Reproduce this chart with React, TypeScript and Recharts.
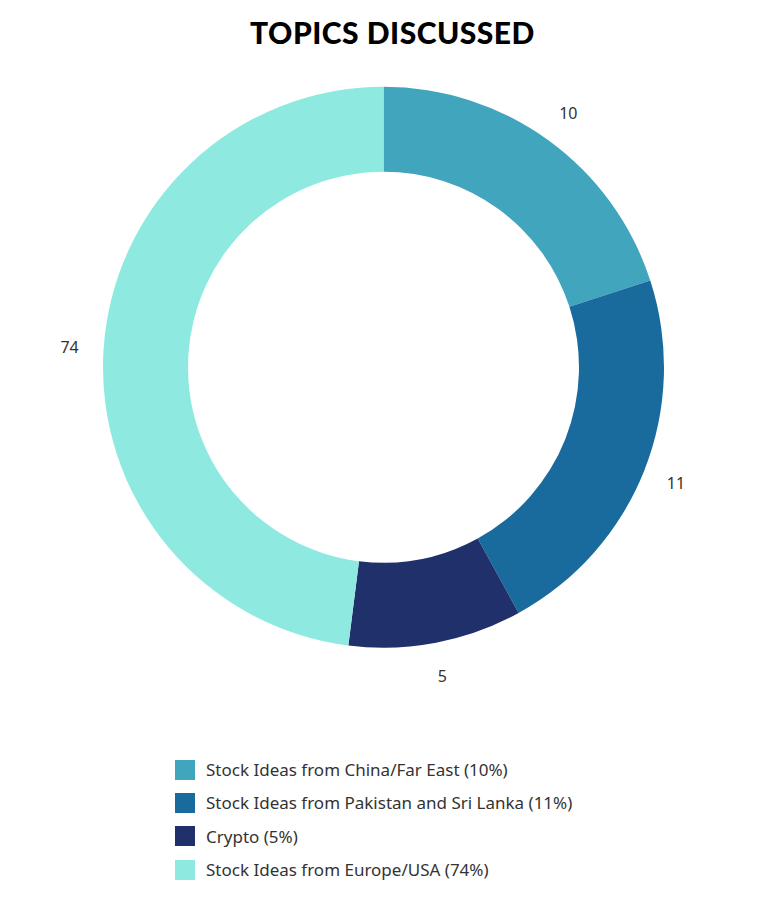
import { PieChart, Pie, Cell, Legend } from 'recharts';

const topics = [
  'Stock Ideas from China/Far East (10%)',
  'Stock Ideas from Pakistan and Sri Lanka (11%)',
  'Crypto (5%)',
  'Stock Ideas from Europe/USA (74%)',
];
// slice sizes as drawn in the picture
const sliceValues = [10, 11, 5, 24];
// numbers printed next to each slice
const sliceLabels = ['10', '11', '5', '74'];
const colors = ['#41A5BD', '#186B9C', '#20306A', '#8EEAE0'];

const data = topics.map((name, i) => ({ name, value: sliceValues[i], label: sliceLabels[i] }));

const RAD = Math.PI / 180;
const FONT = '"Noto Sans", sans-serif';

const renderLabel = (props: any) => {
  const { cx, cy, midAngle, outerRadius, index } = props;
  const r = outerRadius + 34;
  const x = cx + r * Math.cos(-midAngle * RAD);
  const y = cy + r * Math.sin(-midAngle * RAD);
  return (
    <text
      x={x}
      y={y}
      fill="#333"
      fontSize={16}
      fontFamily={FONT}
      textAnchor="middle"
      dominantBaseline="central"
    >
      {sliceLabels[index]}
    </text>
  );
};

// legend keeps the data order, not the alphabetical payload order
const renderLegend = () => (
  <ul style={{ listStyle: 'none', margin: 0, padding: 0 }}>
    {topics.map((name, i) => (
      <li
        key={name}
        style={{ display: 'flex', alignItems: 'center', height: 33.3, fontFamily: FONT, fontSize: 17, color: '#333' }}
      >
        <span style={{ display: 'inline-block', width: 20, height: 20, background: colors[i], marginRight: 11 }} />
        {name}
      </li>
    ))}
  </ul>
);

const App = () => {
  return (
    <div style={{ position: 'absolute', left: 0, top: 0, width: 760, height: 920, background: '#fff' }}>
      <div
        style={{
          position: 'absolute',
          left: 0,
          top: 14,
          width: 785,
          textAlign: 'center',
          fontFamily: 'Lato, sans-serif',
          fontWeight: 900,
          fontSize: 30,
          color: '#000',
          letterSpacing: 0.5,
        }}
      >
        TOPICS DISCUSSED
      </div>
      <div style={{ position: 'absolute', left: 0, top: 0 }}>
        <PieChart width={760} height={920} margin={{ top: 0, right: 0, bottom: 0, left: 0 }}>
          <Pie
            data={data}
            dataKey="value"
            nameKey="name"
            cx={383.5}
            cy={367.2}
            innerRadius={195.5}
            outerRadius={280.5}
            startAngle={90}
            endAngle={-270}
            stroke="none"
            label={renderLabel}
            labelLine={false}
            isAnimationActive={false}
          >
            {data.map((d, i) => (
              <Cell key={d.name} fill={colors[i]} />
            ))}
          </Pie>
          <Legend
            content={renderLegend}
            wrapperStyle={{ position: 'absolute', left: 175, top: 753, width: 520 }}
          />
        </PieChart>
      </div>
    </div>
  );
};

export default App;
